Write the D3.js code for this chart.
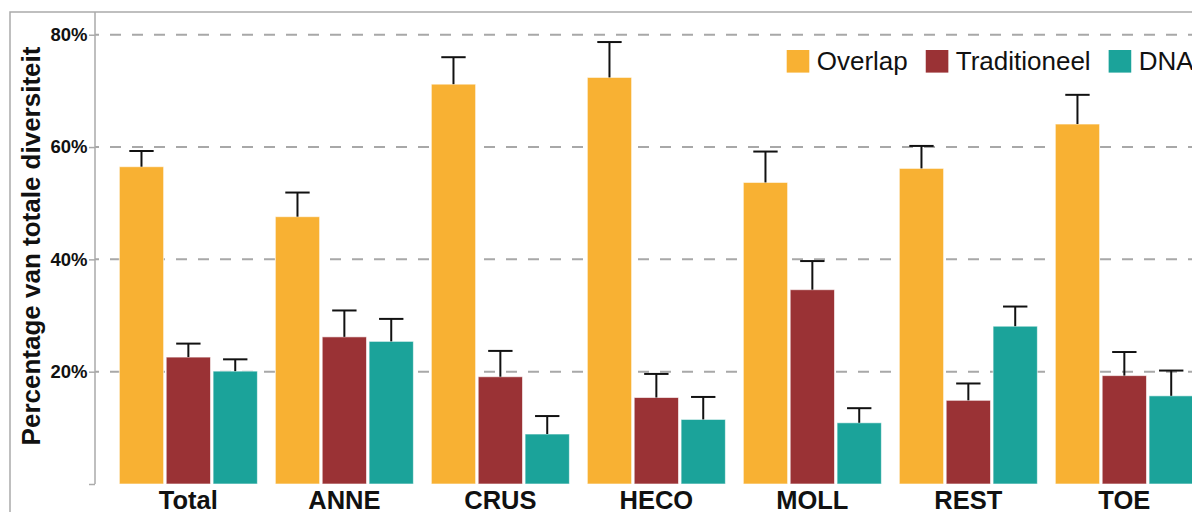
<!DOCTYPE html>
<html>
<head>
<meta charset="utf-8">
<script src="https://cdn.jsdelivr.net/npm/d3@7"></script>
<style>
  html, body { margin: 0; padding: 0; background: #fff; }
  svg { display: block; font-family: "Liberation Sans", Arial, sans-serif; }
</style>
</head>
<body>
<svg id="chart" width="1192" height="512"></svg>
<script>
// Groups along the x axis
const categories = ["Total", "ANNE", "CRUS", "HECO", "MOLL", "REST", "TOE"];
// Series (bars within each group)
const seriesNames = ["Overlap", "Traditioneel", "DNA"];
const seriesColors = ["#F8B133", "#9A3235", "#1BA39A"];

// Mean share of total diversity (%) per group
const overlapValues = [56.5, 47.6, 71.2, 72.4, 53.7, 56.2, 64.1];
const traditioneelValues = [22.6, 26.2, 19.1, 15.4, 34.6, 14.9, 19.3];
const dnaValues = [20.1, 25.4, 8.9, 11.5, 10.9, 28.1, 15.7];

// Upper error (standard error, %) per group
const overlapErr = [2.8, 4.3, 4.8, 6.3, 5.5, 4.0, 5.2];
const traditioneelErr = [2.4, 4.7, 4.6, 4.2, 5.1, 3.0, 4.2];
const dnaErr = [2.1, 4.0, 3.2, 4.0, 2.6, 3.5, 4.5];

// Y axis ticks
const yTicks = [0, 20, 40, 60, 80];
const yTickLabels = ["", "20%", "40%", "60%", "80%"];

const yTitle = "Percentage van totale diversiteit";

const valuesBySeries = [overlapValues, traditioneelValues, dnaValues];
const errBySeries = [overlapErr, traditioneelErr, dnaErr];

const rows = [];
categories.forEach((cat, i) => {
  seriesNames.forEach((s, j) => {
    rows.push({ cat, series: s, idx: j, value: valuesBySeries[j][i], err: errBySeries[j][i] });
  });
});

const svg = d3.select("#chart");

const plot = { left: 95, top: 12, bottom: 484 };

const y = d3.scaleLinear().domain([0, 84.05]).range([plot.bottom, plot.top]);

const x = d3.scaleBand()
  .domain(categories)
  .range([plot.left, plot.left + 1122.7])
  .paddingInner(0.115)
  .paddingOuter(0.156);

const xSub = d3.scaleBand()
  .domain(seriesNames)
  .range([0, x.bandwidth()])
  .paddingInner(0.055);

const color = d3.scaleOrdinal().domain(seriesNames).range(seriesColors);

// Panel frame
svg.append("rect")
  .attr("x", 10).attr("y", plot.top)
  .attr("width", 1300).attr("height", 600)
  .attr("fill", "none")
  .attr("stroke", "#aaaaaa")
  .attr("stroke-width", 1.5);

// Dashed horizontal gridlines
svg.append("g")
  .selectAll("line")
  .data(yTicks.filter(d => d > 0))
  .join("line")
  .attr("x1", plot.left).attr("x2", 1192)
  .attr("y1", d => y(d)).attr("y2", d => y(d))
  .attr("stroke", "#a8a8a8")
  .attr("stroke-width", 2)
  .attr("stroke-dasharray", "11,11")
  .attr("stroke-dashoffset", 7);

// Bars
const groups = svg.append("g")
  .selectAll("g")
  .data(categories)
  .join("g")
  .attr("transform", d => `translate(${x(d)},0)`);

groups.selectAll("rect")
  .data(cat => rows.filter(r => r.cat === cat))
  .join("rect")
  .attr("x", d => xSub(d.series))
  .attr("y", d => y(d.value))
  .attr("width", xSub.bandwidth())
  .attr("height", d => y(0) - y(d.value))
  .attr("fill", d => color(d.series))
  .attr("stroke", "#ffffff")
  .attr("stroke-opacity", 0.6)
  .attr("stroke-width", 1);

// Upper error whiskers
const capW = xSub.bandwidth() * 0.55;
const whiskers = groups.selectAll("g.err")
  .data(cat => rows.filter(r => r.cat === cat))
  .join("g")
  .attr("class", "err");

whiskers.append("line")
  .attr("x1", d => xSub(d.series) + xSub.bandwidth() / 2)
  .attr("x2", d => xSub(d.series) + xSub.bandwidth() / 2)
  .attr("y1", d => y(d.value))
  .attr("y2", d => y(d.value + d.err))
  .attr("stroke", "#111")
  .attr("stroke-width", 2);

whiskers.append("line")
  .attr("x1", d => xSub(d.series) + xSub.bandwidth() / 2 - capW / 2)
  .attr("x2", d => xSub(d.series) + xSub.bandwidth() / 2 + capW / 2)
  .attr("y1", d => y(d.value + d.err))
  .attr("y2", d => y(d.value + d.err))
  .attr("stroke", "#111")
  .attr("stroke-width", 2);

// Y axis
const yAxis = d3.axisLeft(y)
  .tickValues(yTicks)
  .tickFormat((d, i) => yTickLabels[i])
  .tickSize(6)
  .tickPadding(1.5)
  .tickSizeOuter(0);

const gy = svg.append("g")
  .attr("transform", `translate(${plot.left},0)`)
  .call(yAxis);
gy.select(".domain").attr("stroke", "#aaaaaa").attr("stroke-width", 1.5)
  .attr("d", `M0,${plot.top}V${plot.bottom}`);
gy.selectAll(".tick line").attr("stroke", "#aaaaaa").attr("stroke-width", 1.5);
gy.selectAll(".tick text")
  .attr("fill", "#111")
  .attr("font-size", "18.5px")
  .attr("font-weight", "bold")
  .attr("font-family", "Liberation Sans, Arial, sans-serif");

// Y axis title
svg.append("text")
  .attr("transform", `translate(39.5,${(plot.top + plot.bottom) / 2 - 2}) rotate(-90)`)
  .attr("text-anchor", "middle")
  .attr("font-size", "26px")
  .attr("font-weight", "bold")
  .attr("fill", "#111")
  .text(yTitle);

// Category labels
svg.append("g")
  .selectAll("text")
  .data(categories)
  .join("text")
  .attr("x", d => x(d) + x.bandwidth() / 2)
  .attr("y", 508.5)
  .attr("text-anchor", "middle")
  .attr("font-size", "25.5px")
  .attr("font-weight", "bold")
  .attr("fill", "#111")
  .text(d => d);

// Legend
const legend = svg.append("g").attr("transform", "translate(786.7,50)");
let lx = 0;
seriesNames.forEach(s => {
  const item = legend.append("g").attr("transform", `translate(${lx},0)`);
  item.append("rect")
    .attr("width", 22.6).attr("height", 22.6)
    .attr("fill", color(s));
  const t = item.append("text")
    .attr("x", 30)
    .attr("y", 20)
    .attr("font-size", "26px")
    .attr("fill", "#111")
    .text(s);
  lx += 30 + t.node().getComputedTextLength() + 18;
});
</script>
</body>
</html>
